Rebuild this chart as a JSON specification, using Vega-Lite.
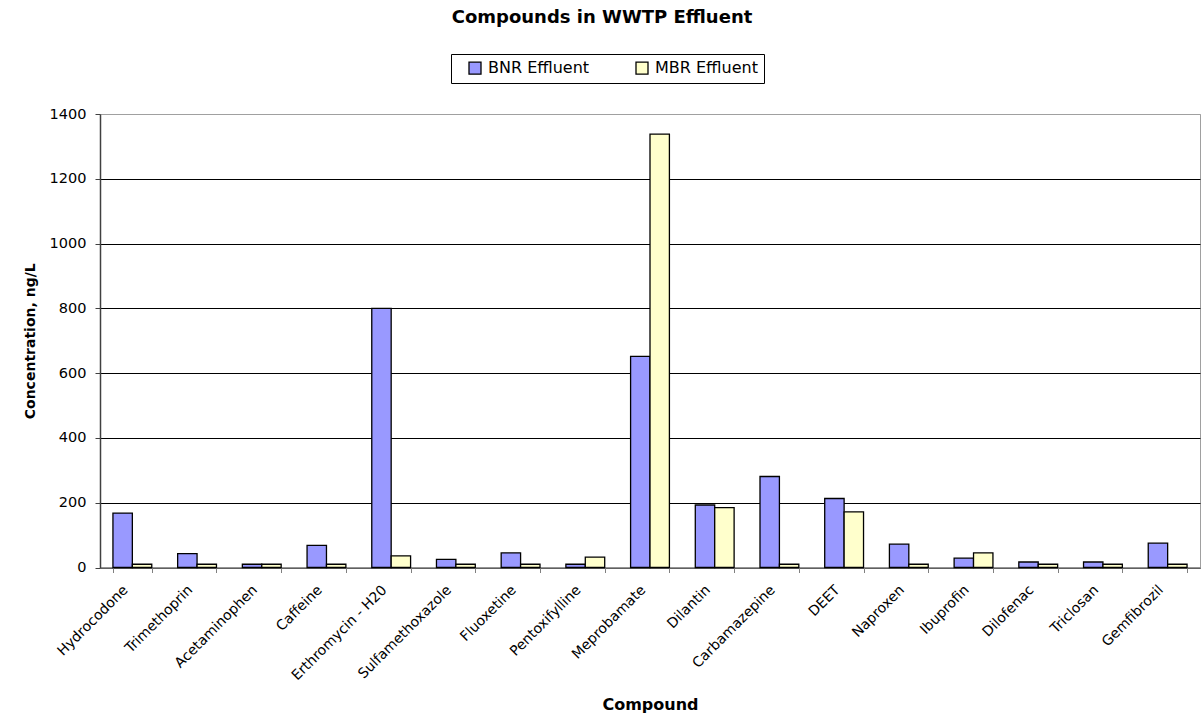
{
  "$schema": "https://vega.github.io/schema/vega-lite/v6.json",
  "autosize": {"type": "none"},
  "padding": {"left": 100, "top": 114, "right": 1, "bottom": 145.5},
  "width": 1100,
  "height": 453.5,
  "background": "white",
  "config": {
    "font": "DejaVu Sans",
    "view": {"stroke": "#a0a0a0", "strokeWidth": 1}
  },
  "title": {
    "text": "Compounds in WWTP Effluent",
    "fontSize": 18,
    "fontWeight": "bold",
    "font": "DejaVu Sans",
    "anchor": "middle",
    "frame": "group",
    "dx": -48,
    "offset": 27,
    "color": "black"
  },
  "data": {
    "values": [
      {"compound": "Hydrocodone", "series": "BNR Effluent", "value": 168},
      {"compound": "Hydrocodone", "series": "MBR Effluent", "value": 10},
      {"compound": "Trimethoprin", "series": "BNR Effluent", "value": 43},
      {"compound": "Trimethoprin", "series": "MBR Effluent", "value": 10},
      {"compound": "Acetaminophen", "series": "BNR Effluent", "value": 10},
      {"compound": "Acetaminophen", "series": "MBR Effluent", "value": 10},
      {"compound": "Caffeine", "series": "BNR Effluent", "value": 68},
      {"compound": "Caffeine", "series": "MBR Effluent", "value": 10},
      {"compound": "Erthromycin - H20", "series": "BNR Effluent", "value": 800},
      {"compound": "Erthromycin - H20", "series": "MBR Effluent", "value": 36},
      {"compound": "Sulfamethoxazole", "series": "BNR Effluent", "value": 25},
      {"compound": "Sulfamethoxazole", "series": "MBR Effluent", "value": 10},
      {"compound": "Fluoxetine", "series": "BNR Effluent", "value": 45},
      {"compound": "Fluoxetine", "series": "MBR Effluent", "value": 10},
      {"compound": "Pentoxifylline", "series": "BNR Effluent", "value": 10},
      {"compound": "Pentoxifylline", "series": "MBR Effluent", "value": 32},
      {"compound": "Meprobamate", "series": "BNR Effluent", "value": 652},
      {"compound": "Meprobamate", "series": "MBR Effluent", "value": 1338},
      {"compound": "Dilantin", "series": "BNR Effluent", "value": 193},
      {"compound": "Dilantin", "series": "MBR Effluent", "value": 185},
      {"compound": "Carbamazepine", "series": "BNR Effluent", "value": 281},
      {"compound": "Carbamazepine", "series": "MBR Effluent", "value": 10},
      {"compound": "DEET", "series": "BNR Effluent", "value": 213},
      {"compound": "DEET", "series": "MBR Effluent", "value": 172},
      {"compound": "Naproxen", "series": "BNR Effluent", "value": 72},
      {"compound": "Naproxen", "series": "MBR Effluent", "value": 10},
      {"compound": "Ibuprofin", "series": "BNR Effluent", "value": 29},
      {"compound": "Ibuprofin", "series": "MBR Effluent", "value": 45},
      {"compound": "Dilofenac", "series": "BNR Effluent", "value": 17},
      {"compound": "Dilofenac", "series": "MBR Effluent", "value": 10},
      {"compound": "Triclosan", "series": "BNR Effluent", "value": 17},
      {"compound": "Triclosan", "series": "MBR Effluent", "value": 10},
      {"compound": "Gemfibrozil", "series": "BNR Effluent", "value": 75},
      {"compound": "Gemfibrozil", "series": "MBR Effluent", "value": 10}
    ]
  },
  "mark": {"type": "bar", "stroke": "black", "strokeWidth": 1.3},
  "encoding": {
    "x": {
      "field": "compound",
      "type": "nominal",
      "sort": null,
      "scale": {"paddingInner": 0.4, "paddingOuter": 0.2},
      "axis": {
        "title": "Compound",
        "titleFont": "DejaVu Sans",
        "titleFontSize": 16,
        "titleFontWeight": "bold",
        "titleColor": "black",
        "titleBaseline": "alphabetic",
        "titleY": 142,
        "labelAngle": -45,
        "labelAlign": "right",
        "labelBaseline": "middle",
        "labelFont": "DejaVu Sans",
        "labelFontSize": 14,
        "labelColor": "black",
        "labelPadding": 15,
        "labelOffset": -7,
        "tickBand": "extent",
        "tickSize": 5,
        "tickColor": "#808080",
        "domainColor": "#808080",
        "domainWidth": 1.5,
        "grid": false
      }
    },
    "xOffset": {"field": "series", "type": "nominal", "sort": ["BNR Effluent", "MBR Effluent"]},
    "y": {
      "field": "value",
      "type": "quantitative",
      "scale": {"domain": [0, 1400], "nice": false},
      "axis": {
        "title": "Concentration, ng/L",
        "titleFont": "DejaVu Sans",
        "titleFontSize": 14,
        "titleFontWeight": "bold",
        "titleColor": "black",
        "titlePadding": 12,
        "values": [0, 200, 400, 600, 800, 1000, 1200, 1400],
        "format": "d",
        "labelFont": "DejaVu Sans",
        "labelFontSize": 14.5,
        "labelColor": "black",
        "labelPadding": 9,
        "tickSize": 5,
        "tickColor": "#404040",
        "domainColor": "#404040",
        "domainWidth": 1.5,
        "grid": true,
        "gridColor": {"condition": {"test": "datum.value == 1400", "value": "#a0a0a0"}, "value": "black"},
        "gridWidth": 1
      }
    },
    "color": {
      "field": "series",
      "type": "nominal",
      "scale": {"domain": ["BNR Effluent", "MBR Effluent"], "range": ["#9999FF", "#FFFFCC"]},
      "legend": {
        "title": null,
        "orient": "none",
        "direction": "horizontal",
        "legendX": 351,
        "legendY": -60,
        "strokeColor": "black",
        "padding": 6,
        "symbolType": "square",
        "symbolSize": 144,
        "symbolStrokeColor": "black",
        "symbolStrokeWidth": 1.3,
        "symbolOffset": 10,
        "labelFont": "DejaVu Sans",
        "labelFontSize": 16,
        "labelColor": "black",
        "columnPadding": 34,
        "labelOffset": 5
      }
    }
  }
}
